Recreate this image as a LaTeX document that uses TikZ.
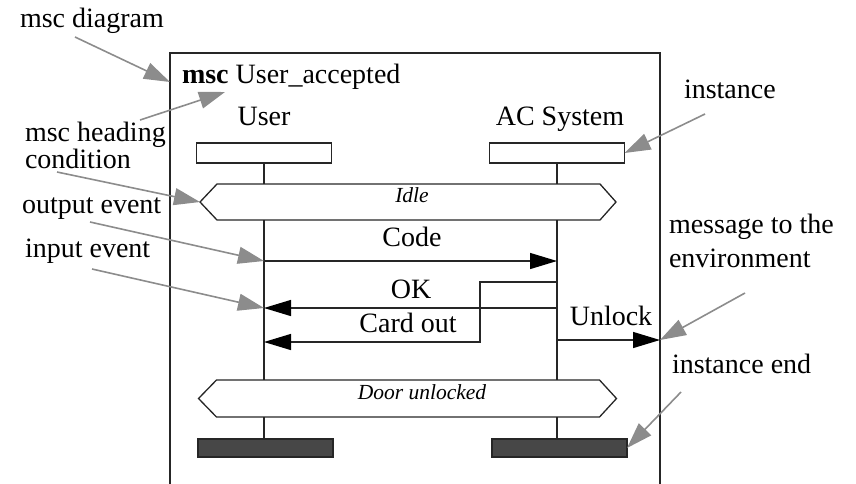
\documentclass[tikz,border=0pt]{standalone}
\usepackage{fontspec}
\setmainfont{Liberation Serif}
\usetikzlibrary{arrows.meta,calc}
\begin{document}
\begin{tikzpicture}[x=1pt,y=-1pt,
  every node/.style={inner sep=0pt, outer sep=0pt},
  txt/.style={font=\fontsize{28}{30}\selectfont, text=black},
  ctxt/.style={font=\fontsize{21.5}{23}\selectfont\itshape, text=black},
  line/.style={draw=black!85, line width=1.3pt},
  msg/.style={line, -{Triangle[length=27pt,width=16pt,color=black]}},
  note/.style={draw=black!45, line width=1.6pt, -{Triangle[length=26pt,width=17pt]}},
  headbox/.style={line, rectangle, minimum width=135pt, minimum height=20pt, fill=white},
  endbox/.style={draw=black!85, line width=1.3pt, fill=black!72, minimum width=135pt, minimum height=18pt},
  condbody/.style={minimum width=383pt, minimum height=36pt},
]
\useasboundingbox (0,0) rectangle (856,483);
% frame
\node[line, rectangle, minimum width=490pt, minimum height=480pt, anchor=north west, line width=1.5pt] (frame) at (170,53) {};
\node[txt, anchor=base west] (title) at (182,83) {\textbf{msc} User\_accepted};
% instances
\node[txt, anchor=base] (uname) at (264,125) {User};
\node[txt, anchor=base] (aname) at (560,125) {AC System};
\node[headbox] (uhead) at (264,153) {};
\node[headbox] (ahead) at (557,153) {};
% conditions
\node[condbody] (idle) at (408.5,202) {};
\draw[line] (idle.north west) -- (idle.north east) -- ($(idle.east)+(16,0)$) -- (idle.south east) -- (idle.south west) -- ($(idle.west)+(-17,0)$) coordinate (idletip) -- cycle;
\node[ctxt, anchor=base] (idlet) at (412,202) {Idle};
\node[condbody, minimum height=37pt] (door) at (408,398.5) {};
\draw[line] (door.north west) -- (door.north east) -- ($(door.east)+(17,0)$) -- (door.south east) -- (door.south west) -- ($(door.west)+(-18,0)$) -- cycle;
\node[ctxt, anchor=base] (doort) at (422,399) {Door unlocked};
% ends
\node[endbox] (uend) at (265.5,448) {};
\node[endbox] (aend) at (559.5,448) {};
% lifelines
\foreach \h in {uhead,ahead}{
  \draw[line] (\h.south) -- (\h.south |- idle.north);
  \draw[line] (\h.south |- idle.south) -- (\h.south |- door.north);
}
\draw[line] (uhead.south |- door.south) -- (uhead.south |- uend.north);
\draw[line] (ahead.south |- door.south) -- (ahead.south |- aend.north);
% messages
\draw[msg] (uhead.south |- 0,261) -- (ahead.south |- 0,261);
\node[txt, anchor=base] (codel) at (412,246) {Code};
\draw[msg] (ahead.south |- 0,308) -- (uhead.south |- 0,308);
\node[txt, anchor=base] (okl) at (411,298) {OK};
\draw[msg] (ahead.south |- 0,282) -- (480,282) -- (480,342) -- (uhead.south |- 0,342);
\node[txt, anchor=base] (cardl) at (408,332) {Card out};
\draw[msg] (ahead.south |- 0,340) -- (frame.east |- 0,340);
\node[txt, anchor=base] (unlockl) at (611,325) {Unlock};
% annotations
\node[txt, anchor=base west] (n1) at (20,27) {msc diagram};
\node[txt, anchor=base west] (n2) at (25,141) {msc heading};
\node[txt, anchor=base west] (n3) at (25,168) {condition};
\node[txt, anchor=base west] (n4) at (22,213) {output event};
\node[txt, anchor=base west] (n5) at (25,257) {input event};
\node[txt, anchor=base west] (n6) at (684,98) {instance};
\node[txt, anchor=base west] (n7) at (669,233) {message to the};
\node[txt, anchor=base west] (n7b) at (669,267) {environment};
\node[txt, anchor=base west] (n8) at (672,373) {instance end};
\coordinate (s1) at (75,37);
\coordinate (s2) at (140,120);
\coordinate (s3) at (57,172);
\coordinate (s4) at (90,222);
\coordinate (s5) at (92,269);
\coordinate (s6) at (705,114);
\coordinate (s7) at (745,293);
\coordinate (s8) at (681,392);
\draw[note] (s1) -- (frame.west |- 0,82);
\draw[note] (s2) -- ($(title.base west)+(43,9)$);
\draw[note] (s3) -- (idletip);
\draw[note] (s4) -- (uhead.south |- 0,261);
\draw[note] (s5) -- (uhead.south |- 0,308);
\draw[note] (s6) -- (ahead.east);
\draw[note] (s7) -- (frame.east |- 0,340);
\draw[note] (s8) -- (aend.east);
\end{tikzpicture}
\end{document}
